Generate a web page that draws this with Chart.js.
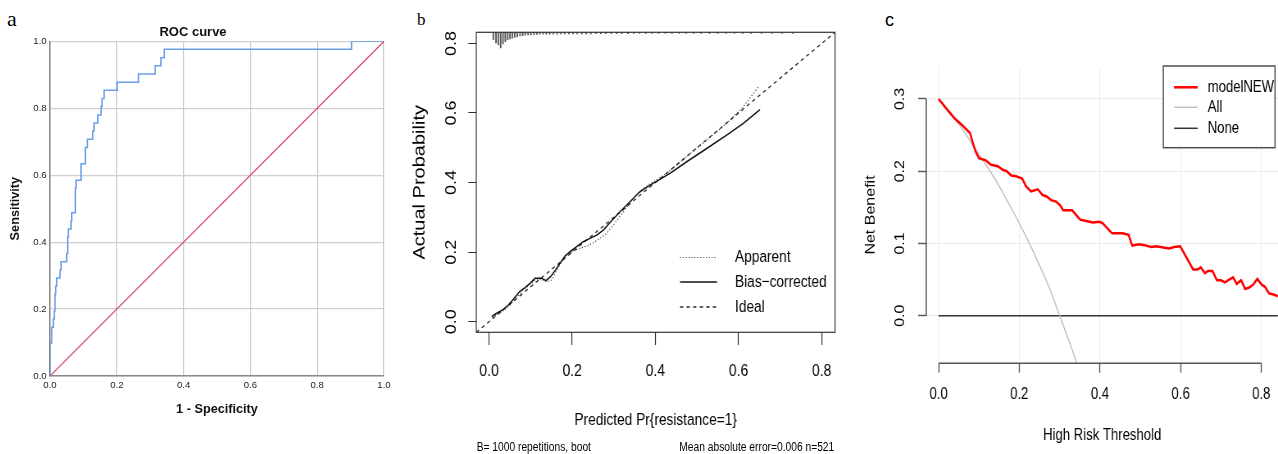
<!DOCTYPE html>
<html>
<head>
<meta charset="utf-8">
<script src="https://cdn.jsdelivr.net/npm/chart.js@4.4.1/dist/chart.umd.min.js"></script>
<style>
  html, body { margin: 0; padding: 0; background: #fff; }
  body { width: 1278px; height: 454px; position: relative; overflow: hidden; font-family: "Liberation Sans", Arial, sans-serif; }
  .panel { position: absolute; top: 0; height: 454px; }
  .squish { transform-origin: 0 0; }
  canvas { display: block; }
  .letter { position: absolute; white-space: nowrap; color: #000; }
  .foot { position: absolute; top: 440.6px; font: 12.5px/1 "Liberation Sans", Arial, sans-serif; white-space: nowrap; color: #000; }
</style>
</head>
<body>
<div class="letter" style="left:7px; top:8px; font:22px/1 'Liberation Serif', serif;">a</div>
<div class="letter" style="left:417px; top:10.8px; font:17px/1 'Liberation Serif', serif;">b</div>
<div class="letter" style="left:885px; top:10.8px; font:18px/1 'Liberation Sans', Arial, sans-serif;">c</div>

<div class="panel" style="left:0; width:400px;"><canvas id="roc" width="400" height="454"></canvas></div>
<div class="panel squish" id="panelB" style="left:400px; width:549px;">
  <canvas id="cal" width="549" height="454"></canvas>
  <div class="foot" style="left:93.5px;">B= 1000 repetitions, boot</div>
  <div class="foot" style="right:19.4px;">Mean absolute error=0.006 n=521</div>
</div>
<div class="panel squish" id="panelC" style="left:850px; width:530px;">
  <canvas id="dca" width="530" height="454"></canvas>
</div>

<script>
// ---- panel a: ROC ----
const rocFpr = [0, 0, 0.005, 0.010, 0.013, 0.015, 0.017, 0.020, 0.030, 0.033, 0.050, 0.053, 0.055, 0.063, 0.065,
  0.076, 0.078, 0.093, 0.106, 0.112, 0.128, 0.132, 0.143, 0.153, 0.156, 0.162, 0.201, 0.265, 0.315, 0.332, 0.342, 0.903, 1.0];
const rocTpr = [0, 0.098, 0.146, 0.171, 0.195, 0.244, 0.268, 0.293, 0.317, 0.341, 0.366, 0.415, 0.439, 0.463, 0.488,
  0.561, 0.585, 0.634, 0.683, 0.707, 0.732, 0.756, 0.780, 0.805, 0.829, 0.854, 0.878, 0.902, 0.927, 0.951, 0.976, 1.0, 1.0];
const refX = [0, 1];
const refY = [0, 1];
const rocTicks = [0, 0.2, 0.4, 0.6, 0.8, 1.0];

// ---- panel b: calibration ----
const appX = [0.008, 0.02, 0.035, 0.05, 0.065, 0.08, 0.095, 0.11, 0.125, 0.139, 0.151, 0.163, 0.175, 0.187, 0.203,
  0.219, 0.235, 0.251, 0.267, 0.283, 0.299, 0.323, 0.347, 0.371, 0.395, 0.427, 0.475, 0.523, 0.5715, 0.6115, 0.6476];
const appY = [0.012, 0.02, 0.032, 0.047, 0.068, 0.088, 0.103, 0.118, 0.122, 0.115, 0.12, 0.1486, 0.1724, 0.1917, 0.204,
  0.211, 0.2175, 0.227, 0.2396, 0.254, 0.278, 0.316, 0.3546, 0.3833, 0.402, 0.4264, 0.474, 0.522, 0.570, 0.618, 0.675];
const biasX = [0.0065, 0.0144, 0.0345, 0.0465, 0.0585, 0.073, 0.0866, 0.0986, 0.1106, 0.1266, 0.137, 0.148, 0.1587,
  0.1707, 0.1827, 0.1948, 0.2108, 0.2268, 0.2428, 0.2589, 0.2749, 0.291, 0.315, 0.339, 0.363, 0.387, 0.411, 0.435,
  0.4754, 0.5234, 0.5715, 0.6115, 0.6516];
const biasY = [0.0144, 0.0213, 0.0356, 0.048, 0.0644, 0.086, 0.0977, 0.110, 0.1247, 0.1247, 0.118, 0.1293, 0.1466,
  0.1678, 0.1888, 0.2011, 0.2155, 0.2299, 0.2396, 0.249, 0.2635, 0.285, 0.316, 0.3448, 0.3736, 0.3928, 0.409, 0.4264,
  0.4598, 0.498, 0.5365, 0.570, 0.610];
const idealX = [-0.0305, 0.832];
const idealY = [-0.0305, 0.832];
// distribution of predicted values (spike lengths hanging from the top of the frame)
const rugX = [0.0104, 0.0168, 0.0224, 0.0281, 0.0337, 0.0392, 0.045, 0.0505, 0.056, 0.0618, 0.068, 0.0745, 0.081,
  0.087, 0.094, 0.101, 0.108, 0.115, 0.122, 0.13, 0.138, 0.146, 0.155, 0.164, 0.173, 0.182, 0.192, 0.202, 0.212,
  0.223, 0.234, 0.245, 0.257, 0.269, 0.281, 0.294, 0.307, 0.32, 0.334, 0.348, 0.362, 0.377, 0.392, 0.408, 0.424,
  0.44, 0.457, 0.474, 0.492, 0.51, 0.53, 0.55, 0.57, 0.59, 0.61, 0.63, 0.655, 0.68, 0.705, 0.73];
const rugLen = [0.021, 0.0307, 0.0365, 0.0451, 0.0336, 0.0267, 0.021, 0.0193, 0.0172, 0.0144, 0.0124, 0.0106, 0.0095,
  0.0086, 0.0078, 0.0072, 0.0066, 0.0063, 0.0057, 0.0057, 0.0057, 0.0052, 0.0052, 0.0052, 0.0049, 0.0049, 0.0046,
  0.0046, 0.0043, 0.0043, 0.0043, 0.0043, 0.004, 0.004, 0.004, 0.0037, 0.0037, 0.0037, 0.0037, 0.0034, 0.0034,
  0.0034, 0.0034, 0.0034, 0.0032, 0.0032, 0.0032, 0.0032, 0.0032, 0.0029, 0.0029, 0.0029, 0.0029, 0.0029, 0.0029,
  0.0029, 0.0029, 0.0029, 0.0029, 0.0029];
const calTicks = [0, 0.2, 0.4, 0.6, 0.8];
const calMin = -0.0305, calMax = 0.832;

// ---- panel c: decision curve ----
const nbX = [0, 0.019, 0.040, 0.060, 0.078, 0.085, 0.092, 0.100, 0.117, 0.130, 0.147, 0.159, 0.169, 0.180, 0.192,
  0.207, 0.217, 0.229, 0.246, 0.258, 0.268, 0.279, 0.291, 0.301, 0.309, 0.331, 0.351, 0.366, 0.382, 0.399, 0.407,
  0.430, 0.456, 0.471, 0.480, 0.496, 0.508, 0.527, 0.539, 0.572, 0.584, 0.599, 0.613, 0.631, 0.642, 0.650, 0.660,
  0.668, 0.679, 0.690, 0.700, 0.710, 0.720, 0.730, 0.739, 0.750, 0.760, 0.770, 0.780, 0.790, 0.801, 0.809, 0.819,
  0.832, 0.841];
const nbY = [0.300, 0.287, 0.273, 0.263, 0.253, 0.239, 0.227, 0.218, 0.215, 0.209, 0.207, 0.202, 0.200, 0.194, 0.193,
  0.190, 0.179, 0.172, 0.175, 0.167, 0.165, 0.160, 0.158, 0.153, 0.146, 0.146, 0.133, 0.131, 0.129, 0.130, 0.128,
  0.114, 0.114, 0.112, 0.097, 0.099, 0.098, 0.095, 0.096, 0.093, 0.095, 0.096, 0.082, 0.064, 0.064, 0.067, 0.059,
  0.062, 0.062, 0.049, 0.049, 0.046, 0.050, 0.053, 0.044, 0.049, 0.037, 0.039, 0.043, 0.051, 0.043, 0.040, 0.031,
  0.029, 0.027];
const allX = [0, 0.027, 0.052, 0.077, 0.101, 0.126, 0.151, 0.176, 0.2, 0.225, 0.25, 0.275, 0.2995, 0.324, 0.342, 0.35];
const allY = [0.300, 0.280, 0.264, 0.243, 0.2225, 0.2017, 0.1787, 0.153, 0.128, 0.100, 0.070, 0.038, 0.001, -0.036, -0.064, -0.077];
const noneX = [0, 0.841];
const noneY = [0, 0];
const dcaXTicks = [0, 0.2, 0.4, 0.6, 0.8];
const dcaYTicks = [0, 0.1, 0.2, 0.3];

// panels b and c are horizontally condensed like the original figure
const S = 0.82;
document.getElementById('panelB').style.transform = 'scaleX(' + S + ')';
document.getElementById('panelC').style.transform = 'scaleX(' + S + ')';
const bx = r => (r - 400) / S;
const cx = r => (r - 850) / S;

Chart.defaults.font.family = '"Liberation Sans", Arial, sans-serif';
Chart.defaults.color = '#000';

const pts = (xs, ys) => xs.map((x, i) => ({ x, y: ys[i] }));
const useTicks = arr => scale => { scale.ticks = arr.map(v => ({ value: v })); };
const fix = size => scale => {
  if (scale.isHorizontal()) scale.height = size; else scale.width = size;
  scale.paddingLeft = scale.paddingRight = scale.paddingTop = scale.paddingBottom = 0;
};
const fmt = v => v.toFixed(1);

const frame = {
  id: 'frame',
  afterDatasetsDraw(chart) {
    const { ctx, chartArea: a } = chart;
    ctx.save();
    ctx.strokeStyle = '#333';
    ctx.lineWidth = 1.2;
    ctx.strokeRect(a.left, a.top, a.right - a.left, a.bottom - a.top);
    ctx.restore();
  }
};

// R style axis lines: from first to last tick only
const rAxes = {
  id: 'rAxes',
  afterDatasetsDraw(chart) {
    const { ctx, chartArea: a, scales: { x, y } } = chart;
    ctx.save();
    ctx.strokeStyle = '#555';
    ctx.lineWidth = 1.5;
    ctx.beginPath();
    ctx.moveTo(x.getPixelForValue(x.ticks[0].value), a.bottom);
    ctx.lineTo(x.getPixelForValue(x.ticks[x.ticks.length - 1].value), a.bottom);
    ctx.moveTo(a.left, y.getPixelForValue(y.ticks[0].value));
    ctx.lineTo(a.left, y.getPixelForValue(y.ticks[y.ticks.length - 1].value));
    ctx.stroke();
    ctx.restore();
  }
};

function insetLegend(cfg) {
  return {
    id: 'insetLegend',
    afterDatasetsDraw(chart) {
      const ctx = chart.ctx;
      ctx.save();
      if (cfg.box) {
        const [l, t, r, b] = cfg.box;
        ctx.fillStyle = '#fff';
        ctx.fillRect(l, t, r - l, b - t);
        ctx.strokeStyle = '#4d4d4d';
        ctx.lineWidth = 1.5;
        ctx.strokeRect(l, t, r - l, b - t);
      }
      ctx.font = cfg.font + 'px "Liberation Sans", Arial, sans-serif';
      ctx.textBaseline = 'middle';
      cfg.labels.forEach((name, i) => {
        const ds = chart.data.datasets.find(d => d.label === name);
        const y = cfg.rows[i];
        ctx.strokeStyle = ds.borderColor;
        ctx.lineWidth = ds.borderWidth;
        ctx.setLineDash(ds.borderDash || []);
        ctx.beginPath();
        ctx.moveTo(cfg.line[0], y);
        ctx.lineTo(cfg.line[1], y);
        ctx.stroke();
        ctx.setLineDash([]);
        ctx.fillStyle = '#000';
        ctx.fillText(name, cfg.text, y);
      });
      ctx.restore();
    }
  };
}

const base = {
  responsive: false,
  animation: false,
  devicePixelRatio: 1,
  events: [],
  elements: { point: { radius: 0 } }
};

// ---- a ----
new Chart(document.getElementById('roc'), {
  type: 'scatter',
  data: {
    datasets: [
      { label: 'ROC', data: pts(rocFpr, rocTpr), showLine: true, stepped: 'before',
        borderColor: '#6b9fe7', borderWidth: 1.5, pointRadius: 0 },
      { label: 'Reference', data: pts(refX, refY), showLine: true,
        borderColor: '#dc4868', borderWidth: 1.2, pointRadius: 0 }
    ]
  },
  options: {
    ...base,
    layout: { padding: { left: 2, right: 16, top: 0, bottom: 0 } },
    plugins: {
      legend: { display: false },
      tooltip: { enabled: false },
      title: { display: true, text: 'ROC curve', color: '#111',
        font: { size: 13, weight: 'bold' }, padding: { top: 24.5, bottom: 1.2 } }
    },
    scales: {
      x: {
        type: 'linear', min: 0, max: 1,
        afterBuildTicks: useTicks(rocTicks), afterFit: fix(78),
        grid: { color: '#cfcfcf', lineWidth: 1.2, drawTicks: false },
        border: { color: '#8a8a8a', width: 1.5 },
        ticks: { font: { size: 9.6 }, color: '#222', padding: 4, maxRotation: 0, autoSkip: false, callback: fmt },
        title: { display: true, text: '1 - Specificity', color: '#111',
          font: { size: 12.7, weight: 'bold' }, padding: { top: 0, bottom: 36.4 } }
      },
      y: {
        type: 'linear', min: 0, max: 1,
        afterBuildTicks: useTicks(rocTicks), afterFit: fix(48),
        grid: { color: '#cfcfcf', lineWidth: 1.2, drawTicks: false },
        border: { color: '#8a8a8a', width: 1.5 },
        ticks: { font: { size: 9.6 }, color: '#222', padding: 3.3, autoSkip: false, callback: fmt },
        title: { display: true, text: 'Sensitivity', color: '#111',
          font: { size: 12.7, weight: 'bold' }, padding: { top: 6.1, bottom: 0 } }
      }
    }
  }
});

// ---- b ----
new Chart(document.getElementById('cal'), {
  type: 'scatter',
  data: {
    datasets: [
      { label: 'Apparent', data: pts(appX, appY), showLine: true,
        borderColor: '#3a3a3a', borderWidth: 1.2, borderDash: [1.2, 2.3], pointRadius: 0 },
      { label: 'Bias\u2212corrected', data: pts(biasX, biasY), showLine: true,
        borderColor: '#111', borderWidth: 1.5, pointRadius: 0 },
      { label: 'Ideal', data: pts(idealX, idealY), showLine: true,
        borderColor: '#222', borderWidth: 1.3, borderDash: [4, 4], pointRadius: 0 },
      { type: 'bar', label: 'rug', data: rugX.map((x, i) => ({ x, y: [calMax - rugLen[i], calMax] })),
        backgroundColor: '#555', borderWidth: 0, barThickness: 1.2 }
    ]
  },
  options: {
    ...base,
    layout: { padding: { left: 0, right: 549 - bx(835), top: 32.3, bottom: 0 } },
    plugins: { legend: { display: false }, tooltip: { enabled: false } },
    scales: {
      x: {
        type: 'linear', min: calMin, max: calMax, offset: false,
        afterBuildTicks: useTicks(calTicks), afterFit: fix(454 - 332.3),
        grid: { display: true, offset: false, drawOnChartArea: false, drawTicks: true, tickLength: 12.7,
          tickColor: '#333', tickWidth: 1.2 },
        border: { display: false },
        ticks: { font: { size: 17 }, color: '#000', padding: 15.8, maxRotation: 0, autoSkip: false, callback: fmt },
        title: { display: true, text: 'Predicted Pr{resistance=1}', color: '#000',
          font: { size: 16.7 }, padding: { top: 0, bottom: 23.3 } }
      },
      y: {
        type: 'linear', min: calMin, max: calMax, beginAtZero: false,
        afterBuildTicks: useTicks(calTicks), afterFit: fix(bx(476.3)),
        grid: { display: true, drawOnChartArea: false, drawTicks: true, tickLength: 9.76,
          tickColor: '#333', tickWidth: 1 },
        border: { display: false },
        ticks: { font: { size: 18 }, color: '#000', padding: 7.4, minRotation: 90, maxRotation: 90,
          crossAlign: 'center', autoSkip: false, callback: fmt },
        title: { display: true, text: 'Actual Probability', color: '#000',
          font: { size: 20 }, padding: { top: 12.4, bottom: 0 } }
      }
    }
  },
  plugins: [frame, insetLegend({
    labels: ['Apparent', 'Bias\u2212corrected', 'Ideal'],
    rows: [257.5, 282, 307],
    line: [bx(680), bx(717)],
    text: bx(735),
    font: 16.7
  })]
});

// ---- c ----
new Chart(document.getElementById('dca'), {
  type: 'scatter',
  data: {
    datasets: [
      { label: 'modelNEW', data: pts(nbX, nbY), showLine: true,
        borderColor: '#ff0000', borderWidth: 2.5, pointRadius: 0 },
      { label: 'All', data: pts(allX, allY), showLine: true, cubicInterpolationMode: 'monotone',
        borderColor: '#bebebe', borderWidth: 1.4, pointRadius: 0 },
      { label: 'None', data: pts(noneX, noneY), showLine: true,
        borderColor: '#333', borderWidth: 1.5, pointRadius: 0 }
    ]
  },
  options: {
    ...base,
    layout: { padding: { left: 0, right: 530 - cx(1278), top: 66.7, bottom: 0 } },
    plugins: { legend: { display: false }, tooltip: { enabled: false } },
    scales: {
      x: {
        type: 'linear', min: -0.0304, max: 0.8414,
        afterBuildTicks: useTicks(dcaXTicks), afterFit: fix(454 - 363.3),
        grid: { color: '#ebebeb', lineWidth: 1, drawTicks: true, tickLength: 9.4, tickColor: '#555', tickWidth: 1.4 },
        border: { display: false },
        ticks: { font: { size: 16 }, color: '#000', padding: 11.9, maxRotation: 0, autoSkip: false, callback: fmt },
        title: { display: true, text: 'High Risk Threshold', color: '#000',
          font: { size: 16 }, padding: { top: 0, bottom: 9.1 } }
      },
      y: {
        type: 'linear', min: -0.0659, max: 0.3447,
        afterBuildTicks: useTicks(dcaYTicks), afterFit: fix(cx(926.3)),
        grid: { color: '#ebebeb', lineWidth: 1, drawTicks: true, tickLength: 10, tickColor: '#555', tickWidth: 1.4 },
        border: { display: false },
        ticks: { font: { size: 16 }, color: '#000', padding: 10.8, minRotation: 90, maxRotation: 90,
          crossAlign: 'center', autoSkip: false, callback: fmt },
        title: { display: true, text: 'Net Benefit', color: '#000',
          font: { size: 16 }, padding: { top: 16, bottom: 0 } }
      }
    }
  },
  plugins: [rAxes, insetLegend({
    labels: ['modelNEW', 'All', 'None'],
    rows: [87.3, 107.3, 128.3],
    line: [cx(1174), cx(1197.7)],
    text: cx(1207.7),
    font: 16,
    box: [cx(1163.3), 66, cx(1275), 147.7]
  })]
});
</script>
</body>
</html>
